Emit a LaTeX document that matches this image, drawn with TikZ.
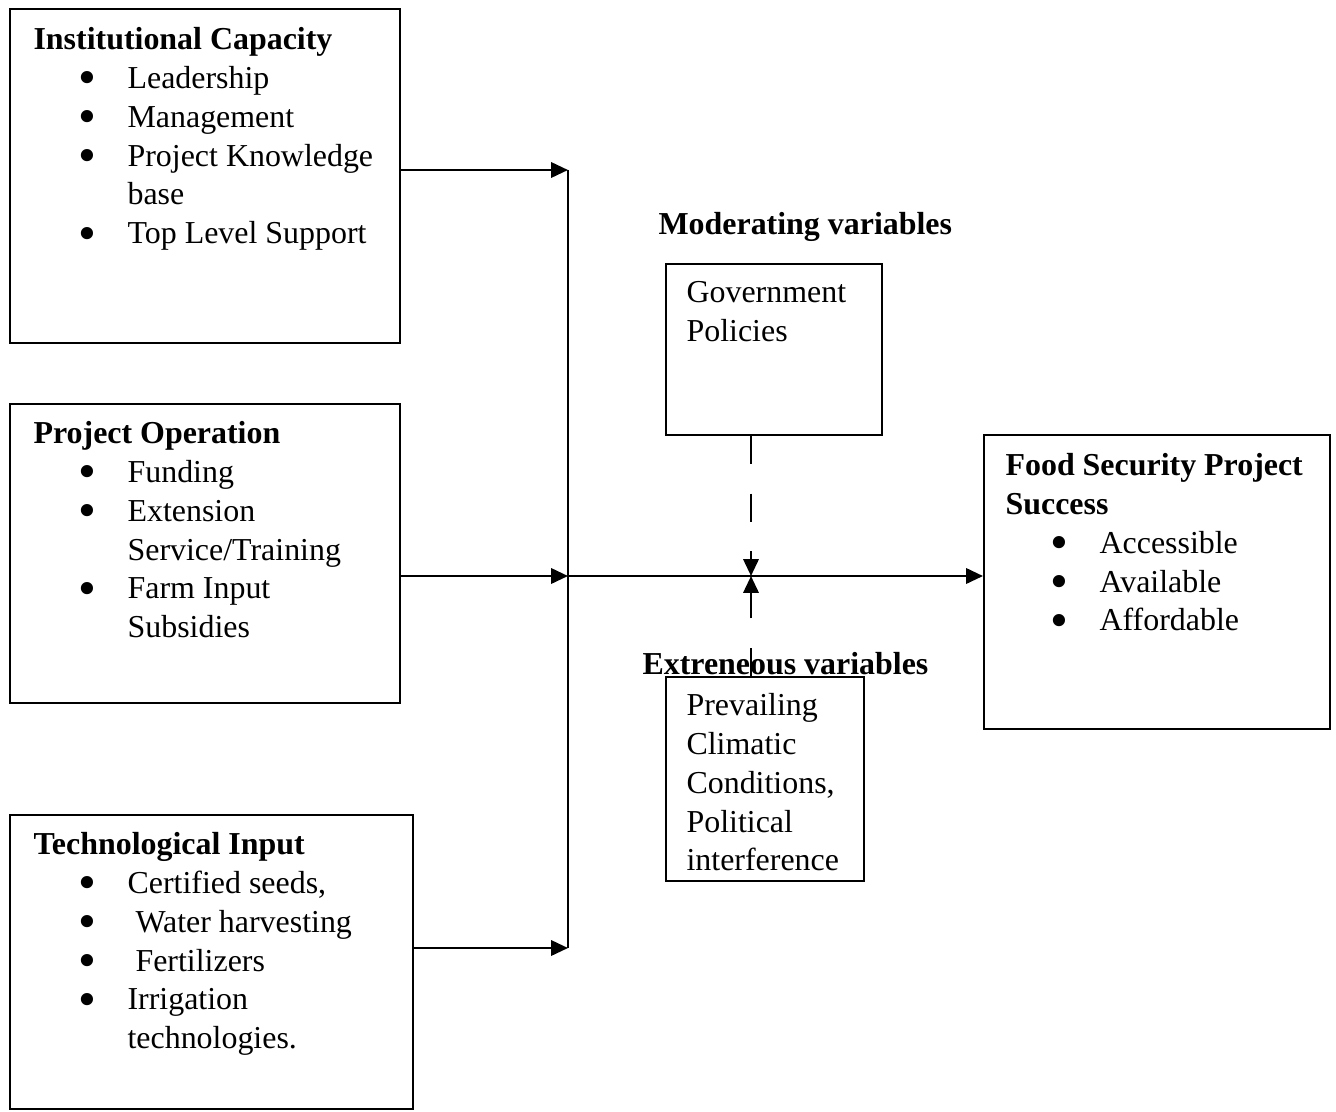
\documentclass[tikz,border=0pt]{standalone}
\usepackage{fontspec}
\setmainfont{Liberation Serif}
\usetikzlibrary{arrows.meta, positioning, fit}
\newcommand{\itm}{\makebox[1.175cm][l]{\hspace{0.56cm}\raisebox{-0.2em}{\scalebox{1.6}{\textbullet}}}}
\newcommand{\cont}{\hspace*{1.175cm}}
\tikzset{
  box/.style={rectangle, draw, line width=0.7pt, inner sep=0pt},
  txt/.style={anchor=north west, inner sep=0pt, align=left,
    font=\fontsize{11.35}{13.8}\selectfont, execute at begin node=\strut},
  arrow/.style={-{Triangle[length=0.21cm,width=0.19cm]}, line width=0.9pt},
  dasharrow/.style={arrow, dash pattern=on 0.35cm off 0.37cm}
}
\begin{document}
\begin{tikzpicture}[x=0.0125cm, y=-0.0125cm]
  \useasboundingbox (0,0) rectangle (1336,1111);

  % Boxes
  \node[box, fit={(10,9) (400,343)}] (inst) {};
  \node[box, fit={(10,404) (400,703)}] (oper) {};
  \node[box, fit={(10,815) (413,1109)}] (tech) {};
  \node[box, fit={(666,264) (882,435)}] (gov) {};
  \node[box, fit={(666,677) (864,881)}] (ext) {};
  \node[box, fit={(984,435) (1330,729)}] (food) {};

  % Texts
  \node[txt] (instT) at (33,27) {\textbf{Institutional Capacity}\\
    \itm Leadership\\
    \itm Management\\
    \itm Project Knowledge\\
    \cont base\\
    \itm Top Level Support};
  \node[txt] (operT) at (33,421) {\textbf{Project Operation}\\
    \itm Funding\\
    \itm Extension\\
    \cont Service/Training\\
    \itm Farm Input\\
    \cont Subsidies};
  \node[txt] (techT) at (33,832) {\textbf{Technological Input}\\
    \itm Certified seeds,\\
    \itm{} Water harvesting\\
    \itm{} Fertilizers\\
    \itm Irrigation\\
    \cont technologies.};
  \node[txt] (govT) at (686,281) {Government\\ Policies};
  \node[txt] (extT) at (686,693) {Prevailing\\ Climatic\\ Conditions,\\ Political\\ interference};
  \node[txt] (foodT) at (1005,453) {\textbf{Food Security Project}\\
    \textbf{Success}\\
    \itm Accessible\\
    \itm Available\\
    \itm Affordable};
  \node[txt] (modL) at (658,207) {\textbf{Moderating variables}};
  \node[txt] (extL) at (642,647) {\textbf{Extreneous variables}};

  % Connectors
  \coordinate (jtop) at (568,170);
  \coordinate (jmid) at (568,576);
  \coordinate (jbot) at (568,948);
  \coordinate (hit) at (751,576);

  \draw[line width=0.9pt] (jtop) -- (jbot);
  \draw[arrow] (inst.east |- jtop) -- (jtop);
  \draw[arrow] (oper.east |- jmid) -- (jmid);
  \draw[arrow] (tech.east |- jbot) -- (jbot);
  \draw[arrow] (jmid) -- (food.west |- jmid);
  \draw[dasharrow] (gov.south -| hit) -- (hit);
  \draw[dasharrow] (ext.north -| hit) -- (hit);
\end{tikzpicture}
\end{document}
